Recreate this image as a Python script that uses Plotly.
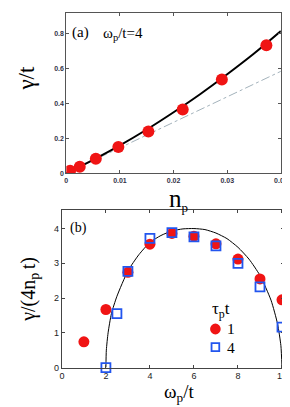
import plotly.graph_objects as go

W, H = 290, 407

# ---- panel (a) data ----
a_n = [0.0007, 0.0025, 0.0055, 0.0097, 0.0153, 0.0217, 0.029, 0.0373]
a_gamma = [0.015, 0.037, 0.083, 0.151, 0.24, 0.366, 0.538, 0.734]
a_curve_n = [0, 0.005, 0.01, 0.015, 0.02, 0.025, 0.03, 0.035, 0.04]
a_curve_g = [0, 0.077, 0.160, 0.251, 0.350, 0.455, 0.568, 0.687, 0.816]
a_lin_n = [0, 0.04]
a_lin_g = [0, 0.585]
a_xticks = [0, 0.01, 0.02, 0.03, 0.04]
a_xticktext = ["0", "0.01", "0.02", "0.03", "0.04"]
a_yticks = [0, 0.2, 0.4, 0.6, 0.8]
a_yticktext = ["0", "0.2", "0.4", "0.6", "0.8"]

# ---- panel (b) data ----
b_w1 = [1, 2, 3, 4, 5, 6, 7, 8, 9, 10]
b_g1 = [0.74, 1.67, 2.74, 3.55, 3.86, 3.78, 3.56, 3.12, 2.55, 1.95]
b_w4 = [2, 2.5, 3, 4, 5, 6, 7, 8, 9, 10]
b_g4 = [0.0, 1.55, 2.77, 3.72, 3.88, 3.76, 3.50, 3.0, 2.32, 1.16]
b_curve_w = [2, 2.02, 2.1, 2.25, 2.5, 3, 3.5, 4, 4.5, 5, 5.5, 6, 6.5, 7, 7.5, 8, 8.5, 9, 9.5, 9.8, 9.95, 10]
b_curve_g = [0, 0.5, 1.0, 1.55, 2.05, 2.78, 3.25, 3.6, 3.8, 3.93, 3.99, 4.0, 3.97, 3.87, 3.71, 3.46, 3.12, 2.65, 1.94, 1.25, 0.63, 0]
b_xticks = [0, 2, 4, 6, 8, 10]
b_yticks = [0, 1, 2, 3, 4]

RED = "#f01414"
BLUE = "#2255ee"
SERIF = "Liberation Serif"
SANS = "Liberation Sans"

def px(x):
    return x / W

def py(y):
    return 1 - y / H

fig = go.Figure()

fig.add_trace(go.Scatter(x=a_lin_n, y=a_lin_g, mode="lines",
                         line=dict(color="#a3b2bb", width=1, dash="dashdot"),
                         xaxis="x", yaxis="y", showlegend=False))
fig.add_trace(go.Scatter(x=a_curve_n, y=a_curve_g, mode="lines", line_shape="spline",
                         line=dict(color="black", width=2),
                         xaxis="x", yaxis="y", showlegend=False))
fig.add_trace(go.Scatter(x=a_n, y=a_gamma, mode="markers",
                         marker=dict(color=RED, size=12),
                         xaxis="x", yaxis="y", showlegend=False, cliponaxis=True))

fig.add_trace(go.Scatter(x=b_curve_w, y=b_curve_g, mode="lines", line_shape="spline",
                         line=dict(color="black", width=1, smoothing=0.6),
                         xaxis="x2", yaxis="y2", showlegend=False))
fig.add_trace(go.Scatter(x=b_w1, y=b_g1, mode="markers",
                         marker=dict(color=RED, size=11),
                         xaxis="x2", yaxis="y2", showlegend=False, cliponaxis=False))
fig.add_trace(go.Scatter(x=b_w4, y=b_g4, mode="markers",
                         marker=dict(symbol="square-open", color=BLUE, size=9,
                                     line=dict(width=1.8, color=BLUE)),
                         xaxis="x2", yaxis="y2", showlegend=False, cliponaxis=False))

axis_common = dict(showgrid=False, zeroline=False, showline=True, mirror="ticks",
                   ticks="inside", ticklen=3, linewidth=1)

fig.update_layout(
    width=W, height=H,
    margin=dict(l=0, r=0, t=0, b=0),
    paper_bgcolor="white", plot_bgcolor="white",
    showlegend=False,
    xaxis=dict(domain=[px(57.3), px(279.5)], range=[0, 0.04], anchor="y",
               tickvals=a_xticks, ticktext=a_xticktext, linecolor="#555",
               tickcolor="#555",
               tickfont=dict(family=SANS, size=7, color="#333348", weight="bold"),
               **axis_common),
    yaxis=dict(domain=[py(167.3), py(5)], range=[0, 0.92], anchor="x",
               tickvals=a_yticks, ticktext=a_yticktext, linecolor="#555",
               tickcolor="#555",
               tickfont=dict(family=SANS, size=7, color="#333348", weight="bold"),
               **axis_common),
    xaxis2=dict(domain=[px(52.7), px(282.5)], range=[0, 10.08], anchor="y2",
                tickvals=b_xticks, linecolor="#444", tickcolor="#444",
                tickfont=dict(family=SANS, size=9, color="#222"),
                **axis_common),
    yaxis2=dict(domain=[py(364), py(205)], range=[0, 4.52], anchor="x2",
                tickvals=b_yticks, linecolor="#444", tickcolor="#444",
                tickfont=dict(family=SANS, size=9, color="#222"),
                **axis_common),
)

def ann(text, x, y, size, xanchor="center", angle=0):
    fig.add_annotation(text=text, x=px(x), y=py(y), xref="paper", yref="paper",
                       showarrow=False, xanchor=xanchor, yanchor="middle",
                       textangle=angle, font=dict(family=SERIF, size=size, color="black"))

ann("γ/t", 16, 71, 23, angle=-90)
ann("n<sub><span style='font-size:13px'>p</span></sub>", 173, 194, 25)
ann("(a)", 61, 25, 15, xanchor="left")
ann("ω<sub>p</sub>/t=4", 93, 26, 15, xanchor="left")

ann("(b)", 59, 223, 14, xanchor="left")
ann("γ/(4n<sub>p </sub>t)", 19, 285, 20, angle=-90)
ann("ω<sub>p</sub>/t", 174, 390, 19)
ann("τ<sub>p</sub>t", 206, 306, 17, xanchor="left")
ann("1", 222, 324.5, 15.5, xanchor="left")
ann("4", 222, 344, 15.5, xanchor="left")

# legend keys
r = 5.5
fig.add_shape(type="circle", xref="paper", yref="paper",
              x0=px(211.7 - r), x1=px(211.7 + r), y0=py(325 + r), y1=py(325 - r),
              fillcolor=RED, line=dict(color=RED, width=0))
s = 4
fig.add_shape(type="rect", xref="paper", yref="paper",
              x0=px(211.7 - s), x1=px(211.7 + s), y0=py(343.3 + s), y1=py(343.3 - s),
              fillcolor="white", line=dict(color=BLUE, width=1.8))

fig.write_html("out.html")
